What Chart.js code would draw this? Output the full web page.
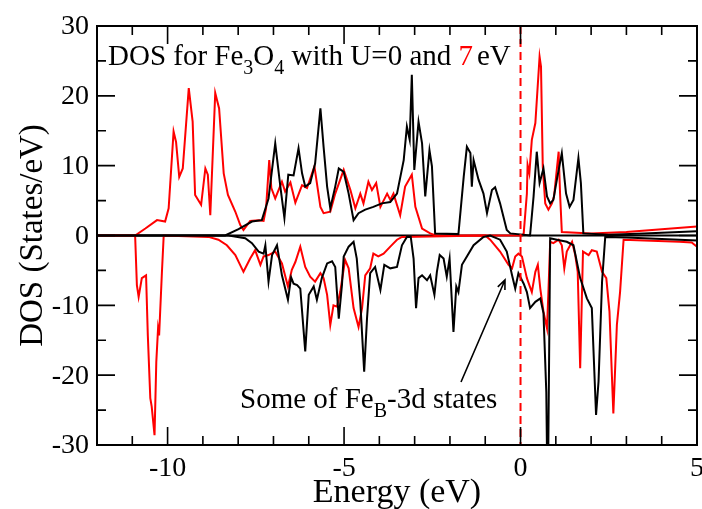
<!DOCTYPE html>
<html>
<head>
<meta charset="utf-8">
<script src="https://cdn.jsdelivr.net/npm/chart.js@4.4.1/dist/chart.umd.min.js"></script>
<style>
  html, body { margin: 0; padding: 0; background: #fff; }
</style>
</head>
<body>
<canvas id="dosChart" width="702" height="509"></canvas>
<script>
// [energy (eV), DOS (states/eV)]
const blackUp = [
  [-12, 0], [-8.37, 0], [-7.99, 0.9], [-7.61, 2.0], [-7.33, 2.2], [-7.14, 5.3], [-6.95, 13.2],
  [-6.81, 7.2], [-6.69, 2.5], [-6.58, 8.7], [-6.43, 8.6], [-6.29, 12.5], [-6.19, 8.9], [-6.10, 7.0],
  [-5.96, 7.5], [-5.82, 10.3], [-5.67, 18.2], [-5.58, 12.7], [-5.48, 7.0], [-5.39, 3.9], [-5.25, 7.0],
  [-5.15, 9.6], [-5.01, 9.1], [-4.87, 6.0], [-4.73, 2.2], [-4.59, 3.2], [-4.40, 3.7], [-4.17, 4.1],
  [-3.93, 4.6], [-3.69, 4.8], [-3.50, 6.0], [-3.31, 10.8], [-3.22, 15.6], [-3.14, 13.7], [-3.08, 23.0],
  [-3.01, 9.4], [-2.89, 16.3], [-2.79, 13.2], [-2.70, 5.6], [-2.58, 12.2], [-2.51, 9.9], [-2.42, 0.3],
  [-1.76, 0.2], [-1.61, 8.4], [-1.52, 12.7], [-1.42, 11.8], [-1.38, 7.0], [-1.33, 10.8], [-1.19, 8.0],
  [-1.05, 6.0], [-0.95, 3.2], [-0.81, 6.5], [-0.72, 6.9], [-0.58, 4.6], [-0.39, 0.8], [-0.29, 0.3],
  [0.27, 0], [0.37, 5.6], [0.46, 12.0], [0.54, 7.5], [0.65, 9.6], [0.75, 5.6], [0.84, 4.6], [0.93, 5.1],
  [1.03, 8.0], [1.17, 11.8], [1.29, 6.0], [1.39, 4.1], [1.50, 5.1], [1.64, 11.1], [1.71, 7.5],
  [1.78, 0.3], [2.5, 0.1], [3.5, 0.3], [5.0, 0.6]
];

const blackDown = [
  [-12, 0], [-8.27, 0], [-7.80, -0.4], [-7.61, -1.1], [-7.42, -2.3], [-7.28, -2.6], [-7.23, -1.4],
  [-7.14, -6.6], [-7.04, -2.8], [-6.90, -1.4], [-6.76, -5.7], [-6.59, -9.2], [-6.50, -6.0], [-6.43, -6.9],
  [-6.33, -7.1], [-6.24, -7.6], [-6.10, -16.6], [-6.00, -8.5], [-5.86, -7.3], [-5.77, -9.2], [-5.63, -6.1],
  [-5.48, -4.0], [-5.34, -3.7], [-5.25, -4.5], [-5.15, -11.9], [-5.06, -7.1], [-5.01, -3.0], [-4.87, -1.6],
  [-4.73, -0.9], [-4.64, -3.3], [-4.54, -9.5], [-4.43, -19.5], [-4.35, -11.9], [-4.26, -5.4], [-4.12, -4.5],
  [-3.97, -7.8], [-3.86, -4.2], [-3.69, -4.7], [-3.50, -4.5], [-3.36, -1.4], [-3.22, -0.2], [-3.11, -0.2],
  [-3.03, -3.3], [-2.96, -10.4], [-2.89, -6.1], [-2.79, -5.7], [-2.65, -6.4], [-2.56, -5.7], [-2.44, -8.5],
  [-2.37, -5.2], [-2.29, -2.8], [-2.18, -3.3], [-2.09, -5.9], [-2.01, -3.3], [-1.90, -13.8], [-1.82, -7.3],
  [-1.76, -8.1], [-1.66, -4.2], [-1.52, -3.0], [-1.33, -1.4], [-1.05, -0.2], [-0.86, 0], [-0.58, -0.6],
  [-0.39, -2.3], [-0.24, -5.7], [-0.15, -7.6], [-0.06, -5.4], [0.09, -6.9], [0.18, -8.1], [0.27, -10.4],
  [0.42, -9.5], [0.56, -9.0], [0.65, -11.1], [0.73, -22.4], [0.77, -40], [0.84, -0.4], [1.03, -0.6],
  [1.31, -0.9], [1.50, -1.4], [1.69, -6.1], [1.88, -9.0], [2.02, -10.4], [2.14, -25.7], [2.21, -20.9],
  [2.31, -6.6], [2.40, -0.2], [3.0, -0.3], [4.0, -0.5], [5.0, -0.7]
];

const redUp = [
  [-12, 0], [-10.92, 0], [-10.63, 1.0], [-10.30, 2.2], [-10.07, 2.0], [-9.97, 3.9], [-9.83, 14.9],
  [-9.76, 13.4], [-9.67, 8.4], [-9.57, 9.6], [-9.40, 21.1], [-9.29, 16.3], [-9.22, 5.8], [-9.05, 4.4],
  [-8.93, 9.6], [-8.86, 8.7], [-8.79, 2.9], [-8.65, 20.4], [-8.54, 18.2], [-8.41, 8.9], [-8.29, 5.8],
  [-8.08, 3.4], [-7.94, 1.5], [-7.85, 0.8], [-7.66, 2.1], [-7.42, 2.2], [-7.28, 2.1], [-7.21, 3.9],
  [-7.12, 10.8], [-7.06, 6.8], [-6.95, 5.3], [-6.76, 7.7], [-6.67, 6.3], [-6.52, 7.6], [-6.38, 4.7],
  [-6.19, 7.2], [-6.05, 6.8], [-5.84, 9.9], [-5.67, 4.1], [-5.58, 3.2], [-5.39, 3.4], [-5.25, 6.0],
  [-5.01, 9.4], [-4.82, 6.5], [-4.68, 3.9], [-4.54, 6.0], [-4.45, 4.6], [-4.31, 7.7], [-4.21, 6.5],
  [-4.09, 7.5], [-3.97, 4.1], [-3.78, 6.0], [-3.69, 5.1], [-3.60, 6.0], [-3.41, 2.9], [-3.27, 7.0],
  [-3.08, 8.7], [-2.98, 4.1], [-2.79, 1.0], [-2.56, 0.3], [-2.40, 0], [0.05, 0], [0.09, 0.3],
  [0.18, 6.0], [0.20, 10.1], [0.25, 8.9], [0.32, 13.7], [0.42, 16.1], [0.54, 25.6], [0.58, 24.2],
  [0.63, 9.9], [0.70, 4.6], [0.79, 3.7], [0.89, 4.6], [0.95, 5.6], [1.08, 12.0], [1.12, 6.0],
  [1.17, 0.5], [2.0, 0.3], [3.0, 0.5], [4.0, 0.9], [5.0, 1.3]
];

const redDown = [
  [-12, 0], [-10.92, 0], [-10.87, -7.1], [-10.82, -8.8], [-10.73, -6.1], [-10.61, -5.7], [-10.56, -14.3],
  [-10.49, -23.3], [-10.45, -24.5], [-10.37, -28.6], [-10.32, -18.1], [-10.27, -13.3], [-10.24, -14.3],
  [-10.16, -5.2], [-10.11, 0], [-8.84, -0.2], [-8.56, -0.6], [-8.32, -1.4], [-8.08, -2.8], [-7.85, -5.2],
  [-7.66, -3.3], [-7.52, -2.1], [-7.37, -4.2], [-7.28, -3.0], [-7.14, -2.8], [-6.95, -2.3], [-6.76, -4.0],
  [-6.59, -7.3], [-6.48, -4.9], [-6.38, -3.8], [-6.24, -1.6], [-6.10, -4.5], [-5.96, -5.9], [-5.82, -6.6],
  [-5.67, -5.4], [-5.58, -6.1], [-5.48, -8.5], [-5.39, -12.8], [-5.30, -10.0], [-5.20, -10.2], [-5.11, -8.1],
  [-4.97, -3.5], [-4.87, -4.7], [-4.73, -10.4], [-4.59, -13.1], [-4.49, -10.4], [-4.40, -5.7], [-4.26, -4.7],
  [-4.17, -2.6], [-4.03, -3.0], [-3.88, -2.6], [-3.69, -1.6], [-3.50, -0.6], [-3.36, -0.2], [-1.0, 0],
  [-0.86, -0.6], [-0.58, -2.3], [-0.34, -4.2], [-0.24, -4.7], [-0.15, -3.0], [-0.06, -2.6], [0.04, -3.0],
  [0.18, -6.1], [0.32, -8.1], [0.42, -5.2], [0.49, -4.2], [0.56, -7.6], [0.65, -10.9], [0.75, -13.3],
  [0.79, -8.1], [0.84, -0.9], [0.93, -1.1], [1.08, -0.6], [1.17, -1.4], [1.24, -4.7], [1.31, -2.3],
  [1.46, -0.9], [1.55, -2.8], [1.62, -5.2], [1.69, -19.0], [1.77, -2.3], [1.93, -2.8], [2.02, -2.1],
  [2.16, -2.3], [2.31, -5.2], [2.43, -6.1], [2.52, -10.9], [2.63, -25.5], [2.73, -12.8], [2.82, -8.1],
  [2.92, -0.6], [3.5, -0.7], [4.5, -0.9], [4.85, -1.0], [5.0, -1.6]
];

const xTicks = [-10, -5, 0, 5];
const yTicks = [-30, -20, -10, 0, 10, 20, 30];
const fermiLevel = 0;

const SERIF = '"Liberation Serif", "Times New Roman", serif';

function toPoints(arr) {
  return arr.map(p => ({ x: p[0], y: p[1] }));
}

function lineSet(arr, color) {
  return {
    data: toPoints(arr),
    borderColor: color,
    borderWidth: 2,
    showLine: true,
    pointRadius: 0,
    tension: 0,
    fill: false
  };
}

// draw text made of pieces, some of them subscripts
function drawRich(ctx, parts, x, y, size) {
  let cx = x;
  parts.forEach(p => {
    const fs = p.sub ? Math.round(size * 0.7) : size;
    ctx.font = fs + 'px ' + SERIF;
    ctx.fillStyle = p.color || '#000';
    const dy = p.sub ? size * 0.3 : 0;
    ctx.fillText(p.t, cx, y + dy);
    cx += ctx.measureText(p.t).width + (p.gap || 0);
  });
}

const decorPlugin = {
  id: 'decor',
  beforeDatasetsDraw(chart) {
    const { ctx, chartArea: a, scales: { y } } = chart;
    ctx.save();
    ctx.strokeStyle = '#000';
    ctx.lineWidth = 1.8;
    ctx.beginPath();
    ctx.moveTo(a.left, y.getPixelForValue(0));
    ctx.lineTo(a.right, y.getPixelForValue(0));
    ctx.stroke();
    ctx.restore();
  },
  afterDatasetsDraw(chart) {
    const { ctx, chartArea: a, scales: { x, y } } = chart;
    ctx.save();

    // Fermi level
    const fx = x.getPixelForValue(fermiLevel);
    ctx.strokeStyle = '#ff0000';
    ctx.lineWidth = 2;
    ctx.setLineDash([8, 5]);
    ctx.beginPath();
    ctx.moveTo(fx, a.top);
    ctx.lineTo(fx, a.bottom);
    ctx.stroke();
    ctx.setLineDash([]);

    // frame
    ctx.strokeStyle = '#000';
    ctx.lineWidth = 2;
    ctx.strokeRect(a.left, a.top, a.right - a.left, a.bottom - a.top);

    // inward ticks on all four sides
    ctx.lineWidth = 1.6;
    ctx.beginPath();
    for (let v = -12; v <= 5; v++) {
      const len = xTicks.includes(v) ? 18 : 9;
      const px = x.getPixelForValue(v);
      ctx.moveTo(px, a.bottom); ctx.lineTo(px, a.bottom - len);
      ctx.moveTo(px, a.top); ctx.lineTo(px, a.top + len);
    }
    for (let v = -30; v <= 30; v += 5) {
      const len = yTicks.includes(v) ? 18 : 9;
      const py = y.getPixelForValue(v);
      ctx.moveTo(a.left, py); ctx.lineTo(a.left + len, py);
      ctx.moveTo(a.right, py); ctx.lineTo(a.right - len, py);
    }
    ctx.stroke();

    // tick labels
    ctx.fillStyle = '#000';
    ctx.font = '28px ' + SERIF;
    ctx.textAlign = 'center';
    ctx.textBaseline = 'alphabetic';
    xTicks.forEach(v => ctx.fillText(String(v), x.getPixelForValue(v), 476));
    ctx.textAlign = 'right';
    ctx.textBaseline = 'middle';
    yTicks.forEach(v => ctx.fillText(String(v), a.left - 8, y.getPixelForValue(v) + 1));

    // axis titles
    ctx.font = '34px ' + SERIF;
    ctx.textAlign = 'center';
    ctx.textBaseline = 'alphabetic';
    ctx.fillText('Energy (eV)', (a.left + a.right) / 2, 502);
    ctx.save();
    ctx.translate(42, (a.top + a.bottom) / 2);
    ctx.rotate(-Math.PI / 2);
    ctx.font = '33px ' + SERIF;
    ctx.fillText('DOS (States/eV)', 0, 0);
    ctx.restore();

    // plot title
    ctx.textAlign = 'left';
    drawRich(ctx, [
      { t: 'DOS for Fe' }, { t: '3', sub: true }, { t: 'O' }, { t: '4', sub: true },
      { t: ' with U=0 and ' }, { t: '7', color: '#ff0000', gap: 4 }, { t: 'eV' }
    ], 108, 65, 29);

    // annotation
    drawRich(ctx, [
      { t: 'Some of Fe' }, { t: 'B', sub: true }, { t: '-3d states' }
    ], 240, 408, 29);

    // arrow
    const x0 = 461, y0 = 382, x1 = 505, y1 = 280;
    const ang = Math.atan2(y1 - y0, x1 - x0);
    ctx.strokeStyle = '#000';
    ctx.lineWidth = 1.6;
    ctx.beginPath();
    ctx.moveTo(x0, y0);
    ctx.lineTo(x1, y1);
    ctx.moveTo(x1 - 10 * Math.cos(ang - 0.4), y1 - 10 * Math.sin(ang - 0.4));
    ctx.lineTo(x1, y1);
    ctx.lineTo(x1 - 10 * Math.cos(ang + 0.4), y1 - 10 * Math.sin(ang + 0.4));
    ctx.stroke();

    ctx.restore();
  }
};

const chart = new Chart(document.getElementById('dosChart'), {
  type: 'scatter',
  data: {
    datasets: [
      lineSet(blackUp, '#000000'),
      lineSet(blackDown, '#000000'),
      lineSet(redUp, '#ff0000'),
      lineSet(redDown, '#ff0000')
    ]
  },
  options: {
    responsive: false,
    animation: false,
    layout: { padding: { top: 26, right: 5, bottom: 0, left: 0 } },
    plugins: { legend: { display: false }, tooltip: { enabled: false } },
    scales: {
      x: {
        type: 'linear', min: -12, max: 5,
        ticks: { display: false }, grid: { display: false }, border: { display: false },
        afterFit: s => { s.height = 64; }
      },
      y: {
        type: 'linear', min: -30, max: 30,
        ticks: { display: false }, grid: { display: false }, border: { display: false },
        afterFit: s => { s.width = 97; }
      }
    }
  },
  plugins: [decorPlugin]
});
</script>
</body>
</html>
